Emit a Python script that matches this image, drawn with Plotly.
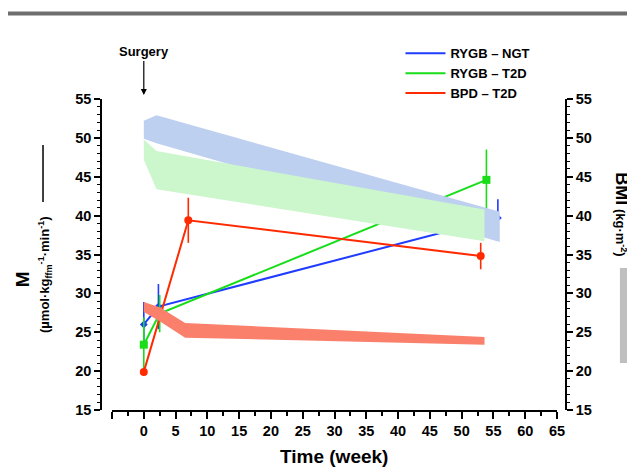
import plotly.graph_objects as go

# ---------------- data ----------------
groups = ["RYGB – NGT", "RYGB – T2D", "BPD – T2D"]
colors = ["#1f3cff", "#18dd18", "#ff2a00"]
band_colors = ["rgb(190,208,240)", "rgb(204,246,204)", "rgb(250,128,108)"]
symbols = ["diamond", "square", "circle"]
marker_sizes = [6, 8, 8]

# M (insulin sensitivity), left axis
m_weeks_ngt = [0, 2.3, 55.7]
m_ngt = [26.0, 28.3, 39.7]
m_ngt_err = [2.9, 2.9, 2.4]

m_weeks_t2d = [0, 2.5, 53.9]
m_t2d = [23.4, 27.4, 44.6]
m_t2d_err = [3.5, 2.4, 3.9]

m_weeks_bpd = [0, 7.0, 53.0]
m_bpd = [19.9, 39.4, 34.8]
m_bpd_err = [0.5, 2.9, 1.7]

# BMI bands (upper / lower edge), right axis
bmi_weeks_ngt = [0, 2, 56]
bmi_ngt_hi = [52.2, 52.9, 40.5]
bmi_ngt_lo = [49.9, 49.3, 36.6]

bmi_weeks_t2d = [0, 2, 53.6]
bmi_t2d_hi = [49.8, 48.3, 40.8]
bmi_t2d_lo = [47.2, 43.4, 36.7]

bmi_weeks_bpd = [0, 2.5, 6.5, 53.6]
bmi_bpd_hi = [28.9, 28.2, 26.2, 24.4]
bmi_bpd_lo = [27.6, 26.4, 24.3, 23.4]

x_ticks = [-5, 0, 5, 10, 15, 20, 25, 30, 35, 40, 45, 50, 55, 60, 65]
x_ticklabels = ["", "0", "5", "10", "15", "20", "25", "30", "35", "40", "45", "50", "55", "60", "65"]
y_ticks = [15, 20, 25, 30, 35, 40, 45, 50, 55]
surgery_week = 0

FONT = "Liberation Sans, Arial, sans-serif"

fig = go.Figure()

# bands
bands = [
    (bmi_weeks_ngt, bmi_ngt_hi, bmi_ngt_lo),
    (bmi_weeks_t2d, bmi_t2d_hi, bmi_t2d_lo),
    (bmi_weeks_bpd, bmi_bpd_hi, bmi_bpd_lo),
]
for (wk, hi, lo), bc in zip(bands, band_colors):
    fig.add_trace(go.Scatter(
        x=list(wk) + list(wk)[::-1],
        y=list(hi) + list(lo)[::-1],
        fill="toself", fillcolor=bc, mode="lines",
        line=dict(width=0, color=bc), showlegend=False, hoverinfo="skip",
        yaxis="y2"))

# M lines
series = [
    (m_weeks_ngt, m_ngt, m_ngt_err),
    (m_weeks_t2d, m_t2d, m_t2d_err),
    (m_weeks_bpd, m_bpd, m_bpd_err),
]
for (wk, m, err), c, sym, ms in zip(series, colors, symbols, marker_sizes):
    fig.add_trace(go.Scatter(
        x=wk, y=m, mode="lines+markers",
        line=dict(color=c, width=2),
        marker=dict(color=c, symbol=sym, size=ms),
        error_y=dict(type="data", array=err, visible=True, color=c,
                     thickness=1.6, width=0),
        showlegend=False))

# legend entries (lines only)
for g, c in zip(groups, colors):
    fig.add_trace(go.Scatter(x=[None], y=[None], mode="lines", name=g,
                             line=dict(color=c, width=2)))

tickfont = dict(family=FONT, size=14.5, color="black", weight="bold")

# page body has an 8px margin: figure is sized/placed so the plot lands at the
# same window pixels as the reference
fig.update_layout(
    width=627, height=460,
    margin=dict(l=93, r=69, t=91, b=58),
    paper_bgcolor="white", plot_bgcolor="white",
    showlegend=True,
    legend=dict(x=0.644, y=1.195, xanchor="left", yanchor="top",
                itemwidth=40,
                font=dict(family=FONT, size=13, color="black", weight="bold"),
                bgcolor="rgba(0,0,0,0)", tracegroupgap=0),
    xaxis=dict(domain=[0.0237, 0.9806], range=[-5, 65], tickmode="array",
               tickvals=x_ticks, ticktext=x_ticklabels,
               showline=True, linecolor="black", linewidth=1.5,
               ticks="outside", ticklen=7, tickwidth=1.5, tickcolor="black",
               minor=dict(dtick=2.5, tick0=-5, ticks="outside", ticklen=4,
                          tickwidth=1.5, tickcolor="black", showgrid=False),
               showgrid=False, zeroline=False, tickfont=tickfont),
    yaxis=dict(range=[15, 55], tickmode="array", tickvals=y_ticks,
               anchor="free", position=0,
               showline=True, linecolor="black", linewidth=1.5,
               ticks="outside", ticklen=6, tickwidth=1.5, tickcolor="black",
               minor=dict(dtick=1, tick0=15, ticks="outside", ticklen=3,
                          tickwidth=1, tickcolor="black", showgrid=False),
               showgrid=False, zeroline=False, tickfont=tickfont),
    yaxis2=dict(range=[15, 55], tickmode="array", tickvals=y_ticks,
                overlaying="y", side="right", anchor="free", position=1,
                showline=True, linecolor="black", linewidth=1.5,
                ticks="outside", ticklen=6, tickwidth=1.5, tickcolor="black",
                minor=dict(dtick=1, tick0=15, ticks="outside", ticklen=3,
                           tickwidth=1, tickcolor="black", showgrid=False),
                showgrid=False, zeroline=False, tickfont=tickfont),
)

# top gray rule
fig.add_shape(type="line", xref="paper", yref="paper",
              x0=-0.202, x1=1.16, y0=1.275, y1=1.275,
              line=dict(color="#6e6e6e", width=4))
# line sample next to M title
fig.add_shape(type="line", xref="paper", yref="paper",
              x0=-0.1247, x1=-0.1247, y0=0.669, y1=0.852,
              line=dict(color="black", width=1.5))
# gray box next to BMI title
fig.add_shape(type="rect", xref="paper", yref="paper",
              x0=1.116, x1=1.1355, y0=0.151, y1=0.4566,
              fillcolor="#bfbfbf", line=dict(width=0))

# Surgery annotation (text sits at the arrow tail)
fig.add_annotation(x=surgery_week, y=1.013, xref="x", yref="paper",
                   text="<b>Surgery</b>",
                   showarrow=True, ax=0, ay=-43, arrowhead=2, arrowsize=1,
                   arrowwidth=1.2, arrowcolor="black",
                   font=dict(family=FONT, size=13, color="black"))

# axis titles
fig.add_annotation(x=-0.17, y=0.42, xref="paper", yref="paper", text="<b>M</b>",
                   textangle=-90, showarrow=False,
                   font=dict(family=FONT, size=19, color="black"),
                   xanchor="center", yanchor="middle")
fig.add_annotation(x=-0.122, y=0.435, xref="paper", yref="paper",
                   text="<b>(µmol·kg<sub>ffm</sub><sup>-1</sup>·min<sup>-1</sup>)</b>",
                   textangle=-90, showarrow=False,
                   font=dict(family=FONT, size=13, color="black"),
                   xanchor="center", yanchor="middle")
fig.add_annotation(x=1.12, y=0.63, xref="paper", yref="paper",
                   text="<b><span style='font-size:18px'>BMI</span> (kg·m<sup>-2</sup>)</b>",
                   textangle=90, showarrow=False,
                   font=dict(family=FONT, size=13, color="black"),
                   xanchor="center", yanchor="middle")
fig.add_annotation(x=0.5, y=-0.151, xref="paper", yref="paper",
                   text="<b>Time (week)</b>", showarrow=False,
                   font=dict(family=FONT, size=19, color="black"),
                   xanchor="center", yanchor="middle")

fig.write_html("out.html", config={"displayModeBar": False})
